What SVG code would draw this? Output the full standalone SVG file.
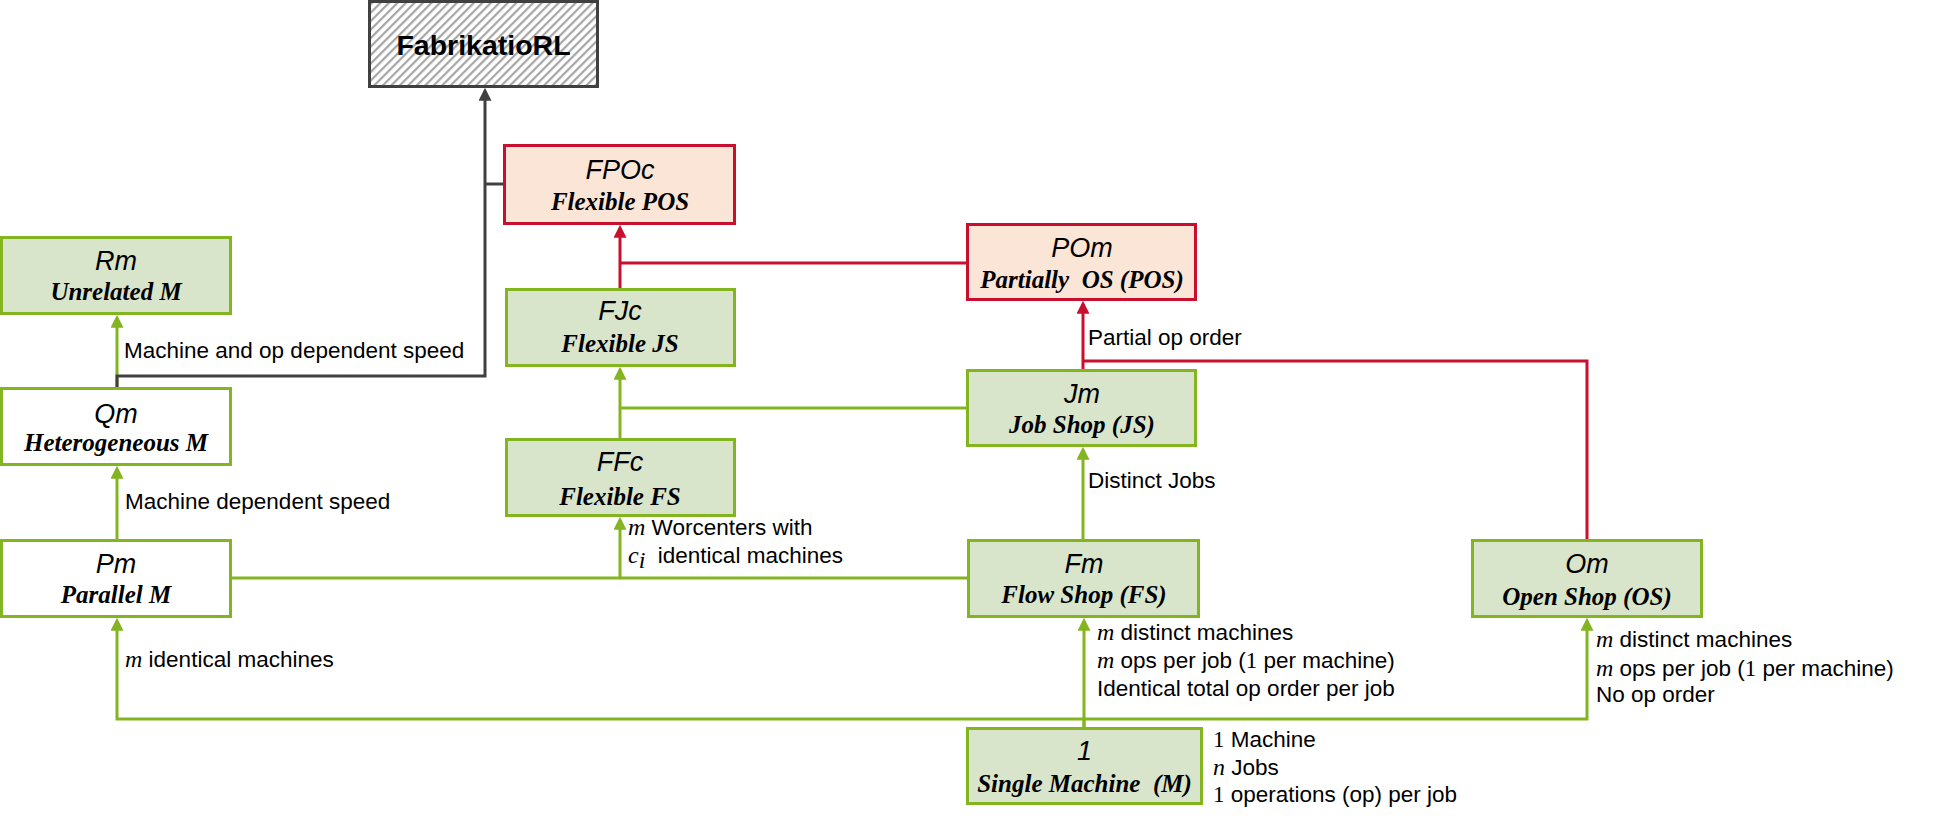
<svg xmlns="http://www.w3.org/2000/svg" width="1934" height="822" viewBox="0 0 1934 822">
<style>
.g{fill:#d9e5cb;stroke:#82b520;stroke-width:3}
.w{fill:#ffffff;stroke:#82b520;stroke-width:3}
.r{fill:#fbe5d6;stroke:#c8102e;stroke-width:3}
.ttl{font-family:"Liberation Sans",Arial,sans-serif;font-style:italic;font-size:27px;text-anchor:middle;fill:#000}
.sub{font-family:"Liberation Serif","Times New Roman",serif;font-style:italic;font-weight:bold;font-size:25px;text-anchor:middle;fill:#000;white-space:pre}
.lbl{font-family:"Liberation Sans",Arial,sans-serif;font-size:22.5px;fill:#000;white-space:pre}
.mi{font-family:"Liberation Serif","Times New Roman",serif;font-style:italic;font-size:24px}
.mu{font-family:"Liberation Serif","Times New Roman",serif;font-size:23px}
.cg{fill:none;stroke:#82b520;stroke-width:3}
.cr{fill:none;stroke:#c8102e;stroke-width:3}
.cd{fill:none;stroke:#404040;stroke-width:3}
</style>
<defs>
<pattern id="hatch" patternUnits="userSpaceOnUse" width="6" height="6" patternTransform="rotate(45)">
<rect width="6" height="6" fill="#ffffff"/>
<rect x="0" y="0" width="2.2" height="6" fill="#a6a6a6"/>
</pattern>
<marker id="ag" viewBox="0 0 12 12" markerWidth="13" markerHeight="13" refX="9" refY="6" orient="auto" markerUnits="userSpaceOnUse"><path d="M0,0 L12,6 L0,12 z" fill="#82b520"/></marker>
<marker id="ar" viewBox="0 0 12 12" markerWidth="13" markerHeight="13" refX="9" refY="6" orient="auto" markerUnits="userSpaceOnUse"><path d="M0,0 L12,6 L0,12 z" fill="#c8102e"/></marker>
<marker id="ad" viewBox="0 0 12 12" markerWidth="13" markerHeight="13" refX="9" refY="6" orient="auto" markerUnits="userSpaceOnUse"><path d="M0,0 L12,6 L0,12 z" fill="#404040"/></marker>
</defs>
<rect width="1934" height="822" fill="#ffffff"/>

<g id="connectors">
<path class="cg" d="M117,387 V318" marker-end="url(#ag)"/>
<path class="cg" d="M117,539 V469" marker-end="url(#ag)"/>
<path class="cg" d="M1084,727 V719 H117 V621" marker-end="url(#ag)"/>
<path class="cg" d="M1084,719 H1587 V621" marker-end="url(#ag)"/>
<path class="cg" d="M1084,727 V621" marker-end="url(#ag)"/>
<path class="cg" d="M232,578 H620 V520" marker-end="url(#ag)"/>
<path class="cg" d="M967,578 H620"/>
<path class="cg" d="M1083,539 V450" marker-end="url(#ag)"/>
<path class="cg" d="M620,438 V370" marker-end="url(#ag)"/>
<path class="cg" d="M966,408 H620"/>
<path class="cr" d="M1083,369 V304" marker-end="url(#ar)"/>
<path class="cr" d="M620,288 V228" marker-end="url(#ar)"/>
<path class="cr" d="M966,263 H620"/>
<path class="cr" d="M1587,539 V361 H1083"/>
<path class="cd" d="M117,387 V376 H485 V91" marker-end="url(#ad)"/>
<path class="cd" d="M503,184 H485"/>
</g>

<g id="labels">
<text class="lbl" x="124" y="358">Machine and op dependent speed</text>
<text class="lbl" x="125" y="509">Machine dependent speed</text>
<text class="lbl" x="125" y="667"><tspan class="mi">m</tspan> identical machines</text>
<text class="lbl" x="628" y="535"><tspan class="mi">m</tspan> Worcenters with</text>
<text class="lbl" x="628" y="563"><tspan class="mi">c</tspan><tspan class="mi" font-size="16" dy="5">i</tspan><tspan dy="-5">  identical machines</tspan></text>
<text class="lbl" x="1088" y="345">Partial op order</text>
<text class="lbl" x="1088" y="488">Distinct Jobs</text>
<text class="lbl" x="1097" y="640"><tspan class="mi">m</tspan> distinct machines</text>
<text class="lbl" x="1097" y="668"><tspan class="mi">m</tspan> ops per job (<tspan class="mu">1</tspan> per machine)</text>
<text class="lbl" x="1097" y="696">Identical total op order per job</text>
<text class="lbl" x="1213" y="747"><tspan class="mu">1</tspan> Machine</text>
<text class="lbl" x="1213" y="775"><tspan class="mi">n</tspan> Jobs</text>
<text class="lbl" x="1213" y="802"><tspan class="mu">1</tspan> operations (op) per job</text>
<text class="lbl" x="1596" y="647"><tspan class="mi">m</tspan> distinct machines</text>
<text class="lbl" x="1596" y="676"><tspan class="mi">m</tspan> ops per job (<tspan class="mu">1</tspan> per machine)</text>
<text class="lbl" x="1596" y="702">No op order</text>
</g>

<g id="fabrikatiorl">
<rect x="369.5" y="1.5" width="228" height="85" fill="url(#hatch)" stroke="#404040" stroke-width="3"/>
<text x="483.5" y="55" font-family="'Liberation Sans',Arial,sans-serif" font-weight="bold" font-size="28.5" text-anchor="middle" fill="#000">FabrikatioRL</text>
</g>

<g id="rm">
<rect class="g" x="1.5" y="237.5" width="229" height="76"/>
<text class="ttl" x="116" y="270">Rm</text>
<text class="sub" x="116" y="300">Unrelated M</text>
</g>

<g id="qm">
<rect class="w" x="1.5" y="388.5" width="229" height="76"/>
<text class="ttl" x="116" y="423">Qm</text>
<text class="sub" x="116" y="451" font-size="22.5">Heterogeneous M</text>
</g>

<g id="pm">
<rect class="w" x="1.5" y="540.5" width="229" height="76"/>
<text class="ttl" x="116" y="573">Pm</text>
<text class="sub" x="116" y="603">Parallel M</text>
</g>

<g id="fpoc">
<rect class="r" x="504.5" y="145.5" width="230" height="78"/>
<text class="ttl" x="620" y="179">FPOc</text>
<text class="sub" x="620" y="210">Flexible POS</text>
</g>

<g id="fjc">
<rect class="g" x="506.5" y="289.5" width="228" height="76"/>
<text class="ttl" x="620" y="320">FJc</text>
<text class="sub" x="620" y="352" font-size="24">Flexible JS</text>
</g>

<g id="ffc">
<rect class="g" x="506.5" y="439.5" width="228" height="76"/>
<text class="ttl" x="620" y="471">FFc</text>
<text class="sub" x="620" y="505" font-size="27.5">Flexible FS</text>
</g>

<g id="pom">
<rect class="r" x="967.5" y="224.5" width="228" height="75"/>
<text class="ttl" x="1082" y="257">POm</text>
<text class="sub" x="1082" y="288">Partially  OS (POS)</text>
</g>

<g id="jm">
<rect class="g" x="967.5" y="370.5" width="228" height="75"/>
<text class="ttl" x="1082" y="403">Jm</text>
<text class="sub" x="1082" y="433">Job Shop (JS)</text>
</g>

<g id="fm">
<rect class="g" x="968.5" y="540.5" width="230" height="76"/>
<text class="ttl" x="1084" y="573">Fm</text>
<text class="sub" x="1084" y="603">Flow Shop (FS)</text>
</g>

<g id="om">
<rect class="g" x="1472.5" y="540.5" width="229" height="76"/>
<text class="ttl" x="1587" y="573">Om</text>
<text class="sub" x="1587" y="605">Open Shop (OS)</text>
</g>

<g id="single">
<rect class="g" x="967.5" y="728.5" width="234" height="75"/>
<text class="ttl" x="1084.5" y="760">1</text>
<text class="sub" x="1084.5" y="792">Single Machine  (M)</text>
</g>
</svg>
